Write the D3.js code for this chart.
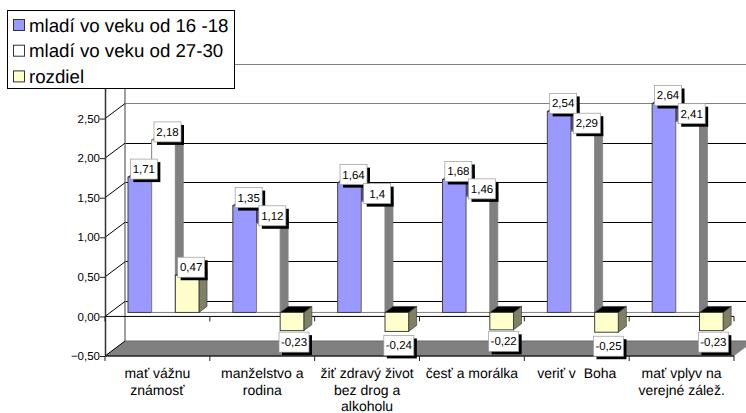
<!DOCTYPE html>
<html><head><meta charset="utf-8">
<script src="https://cdn.jsdelivr.net/npm/d3@7"></script>
<style>html,body{margin:0;padding:0;background:#fff;overflow:hidden}svg{display:block}text{font-family:"Liberation Sans",Arial,sans-serif;fill:#000;text-rendering:geometricPrecision}</style>
</head><body><div id="c"></div>
<script>
const categories = ["mať vážnu|známosť","manželstvo a|rodina","žiť zdravý život|bez drog a|alkoholu","česť a morálka","veriť v  Boha","mať vplyv na|verejné zálež."];
const seriesNames = ["mladí vo veku od 16 -18","mladí vo veku od 27-30","rozdiel"];
const young = [1.71,1.35,1.64,1.68,2.54,2.64];
const older = [2.18,1.12,1.4,1.46,2.29,2.41];
const diff = [0.47,-0.23,-0.24,-0.22,-0.25,-0.23];
const yTicks = [-0.5,0,0.5,1,1.5,2,2.5];
const gridValues = [0,0.5,1,1.5,2,2.5,3];
const labelText = [["1,71","1,35","1,64","1,68","2,54","2,64"],["2,18","1,12","1,4","1,46","2,29","2,41"],["0,47","-0,23","-0,24","-0,22","-0,25","-0,23"]];

const W=746,H=413;
const fills=["#9999FF","#FFFFFF","#FFFFCC"];
const sides=["#4C4C80","#808080","#808066"];
const tops=["#333366","#808080","#000000"];
const strokes=["#404040","#808080","#404040"];
const series=[young,older,diff];

const svg=d3.select("#c").append("svg").attr("width",W).attr("height",H);
const x=d3.scaleBand().domain(categories).range([105,734]);
const y=d3.scaleLinear().domain([-0.5,3]).range([356,79]);
const x1=d3.scaleBand().domain(seriesNames).range([23,94]);
const backDx=20,backDy=-15,planeDy=-4,depthX=8,depthY=-6;

svg.append("g").selectAll("line").data(gridValues).join("line")
 .attr("x1",125).attr("x2",W).attr("y1",d=>y(d)+backDy).attr("y2",d=>y(d)+backDy)
 .attr("stroke",d=>d>=2.5?"#808080":"#000").attr("stroke-width",1).attr("shape-rendering","crispEdges");
svg.append("line").attr("x1",125).attr("x2",125).attr("y1",y(3)+backDy).attr("y2",y(-0.5)+backDy).attr("stroke","#808080").attr("stroke-width",1.5);
svg.append("g").selectAll("line").data(gridValues).join("line")
 .attr("x1",105).attr("x2",125).attr("y1",d=>y(d)).attr("y2",d=>y(d)+backDy).attr("stroke","#000");
const floor=[[105,y(-0.5)],[105+backDx,y(-0.5)+backDy],[734+backDx,y(-0.5)+backDy],[734,y(-0.5)]];
svg.append("polygon").attr("points",floor.join(" ")).attr("fill","#808080");
svg.append("line").attr("x1",125).attr("x2",W).attr("y1",y(-0.5)+backDy).attr("y2",y(-0.5)+backDy).attr("stroke","#666");
svg.append("line").attr("x1",105).attr("x2",125).attr("y1",y(-0.5)).attr("y2",y(-0.5)+backDy).attr("stroke","#000");
svg.append("line").attr("x1",x(categories[0])+x1(seriesNames[0])).attr("x2",x(categories[5])+x1(seriesNames[2])+x1.bandwidth())
 .attr("y1",y(0)+planeDy).attr("y2",y(0)+planeDy).attr("stroke","#808080").attr("stroke-width",1);

const axL=svg.append("g").attr("transform","translate(105,0)")
 .call(d3.axisLeft(y).tickValues(yTicks).tickSize(5).tickSizeOuter(0).tickFormat(d=>d3.format(".2f")(d).replace(".",",")));
axL.selectAll("text").style("font-size","11.5px").attr("x",-5);
axL.select(".domain").attr("stroke","#333").attr("stroke-width",1.5);
axL.selectAll(".tick line").attr("stroke","#222");

const edges=categories.map(c=>x(c)).concat([x(categories[5])+x.step()]);
[0,-0.5].forEach(v=>{
 svg.append("line").attr("x1",105).attr("x2",734).attr("y1",y(v)).attr("y2",y(v)).attr("stroke",v<0?"#222":"#000").attr("stroke-width",v<0?1.5:1);
 svg.append("g").selectAll("line").data(edges).join("line")
  .attr("x1",d=>d).attr("x2",d=>d).attr("y1",y(v)).attr("y2",y(v)+5).attr("stroke","#222");
});
const axB=svg.append("g").attr("transform",`translate(0,${y(-0.5)})`).call(d3.axisBottom(x).tickSize(0));
axB.select(".domain").remove();
axB.selectAll("text").each(function(d){
 const t=d3.select(this).text("").attr("y",0).attr("dy",0).style("font-size","14px").style("white-space","pre");
 d.split("|").forEach((s,i)=>t.append("tspan").attr("x",0).attr("y",22+i*16.7).text(s));
});

function bar(g,i,j){
 const v=series[i][j],c=categories[j],n=seriesNames[i];
 const bx=x(c)+x1(n),bw=x1.bandwidth();
 const y0=y(0)+planeDy,yv=y(v)+planeDy;
 const t=Math.min(y0,yv),b=Math.max(y0,yv);
 g.append("polygon").attr("points",[[bx+bw,t],[bx+bw+depthX,t+depthY],[bx+bw+depthX,b+depthY],[bx+bw,b]].join(" "))
  .attr("fill",sides[i]).attr("stroke",strokes[i]).attr("stroke-width",.7);
 g.append("polygon").attr("points",[[bx,t],[bx+depthX,t+depthY],[bx+bw+depthX,t+depthY],[bx+bw,t]].join(" "))
  .attr("fill",tops[i]).attr("stroke",strokes[i]).attr("stroke-width",.7);
 g.append("rect").attr("x",bx).attr("y",t).attr("width",bw).attr("height",b-t)
  .attr("fill",fills[i]).attr("stroke",strokes[i]).attr("stroke-width",1);
}
const bars=svg.append("g");
categories.forEach((c,j)=>[0,1,2].forEach(i=>bar(bars,i,j)));

const lab=svg.append("g");
series.forEach((s,i)=>s.forEach((v,j)=>{
 const n=seriesNames[i],c=categories[j];
 const bx=x(c)+x1(n)+x1.bandwidth()/2;
 const yv=y(v)+planeDy;
 const neg=v<0;
 const cx=bx+(neg?2:4), cy=neg?yv+(v<-0.235?14:11.5):yv-8;
 const txt=labelText[i][j];
 const w=txt.length>4?30:27,h=20;
 lab.append("rect").attr("x",cx-w/2+3).attr("y",cy-h/2+3).attr("width",w).attr("height",h).attr("fill","#000");
 lab.append("rect").attr("x",cx-w/2).attr("y",cy-h/2).attr("width",w).attr("height",h).attr("fill","#fff").attr("stroke","#999").attr("stroke-width",.7);
 lab.append("text").attr("x",cx).attr("y",cy+4).attr("text-anchor","middle").style("font-size","11.5px").text(txt);
}));

const lg=svg.append("g");
lg.append("rect").attr("x",7.5).attr("y",10.5).attr("width",227).attr("height",78).attr("fill","#fff").attr("stroke","#000");
seriesNames.forEach((n,i)=>{
 const cy=25+i*25.7;
 lg.append("rect").attr("x",13.5).attr("y",cy-5.5).attr("width",11).attr("height",11).attr("fill",fills[i]).attr("stroke","#333");
 lg.append("text").attr("x",29).attr("y",cy+6.5).style("font-size","18.7px").text(n);
});
</script></body></html>
